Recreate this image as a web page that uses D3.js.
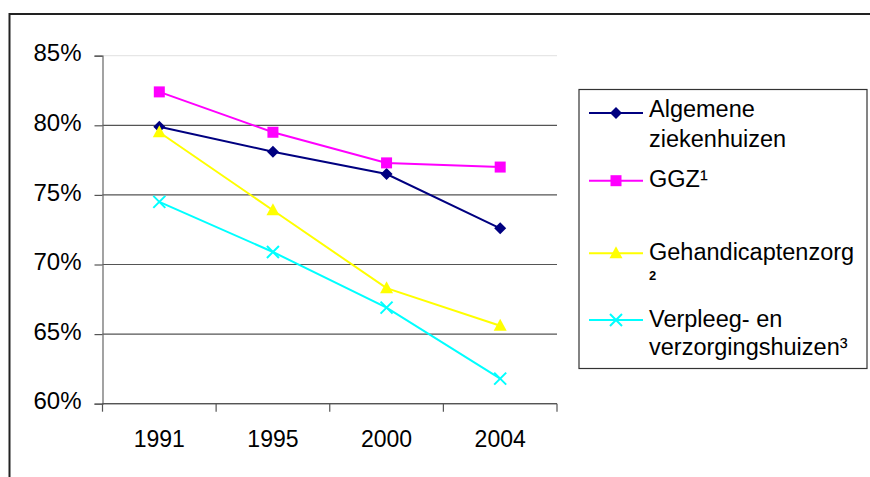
<!DOCTYPE html>
<html>
<head>
<meta charset="utf-8">
<script src="https://cdn.jsdelivr.net/npm/d3@7/dist/d3.min.js"></script>
<style>
  html, body { margin: 0; padding: 0; background: #fff; }
  svg { display: block; font-family: "Liberation Sans", Arial, sans-serif; }
</style>
</head>
<body>
<svg id="chart" width="870" height="477"></svg>
<script>
// Years on the category axis
const years = ["1991", "1995", "2000", "2004"];
// Percentage per sector
const algemeneZiekenhuizen = [79.9, 78.1, 76.5, 72.6];
const ggz = [82.4, 79.5, 77.3, 77.0];
const gehandicaptenzorg = [79.5, 73.9, 68.3, 65.6];
const verpleegVerzorging = [74.5, 70.9, 66.9, 61.8];
// Value axis ticks
const yTicks = [60, 65, 70, 75, 80, 85];

const series = [
  { name: ["Algemene", "ziekenhuizen"], values: algemeneZiekenhuizen, color: "#000080", marker: "diamond" },
  { name: ["GGZ\u00B9"], values: ggz, color: "#FF00FF", marker: "square" },
  { name: ["Gehandicaptenzorg", "\u00B2"], values: gehandicaptenzorg, color: "#FFFF00", marker: "triangle" },
  { name: ["Verpleeg- en", "verzorgingshuizen\u00B3"], values: verpleegVerzorging, color: "#00FFFF", marker: "cross" }
];

const svg = d3.select("#chart");
const FONT_X = 23;
const FONT_Y = 24;
const FONT_LEGEND = 23.5;

// Outer frame
svg.append("rect")
  .attr("x", 9.5).attr("y", 14).attr("width", 880).attr("height", 500)
  .attr("fill", "none").attr("stroke", "#222").attr("stroke-width", 2);

const plot = { left: 102.5, right: 557, top: 55.7, bottom: 403.7 };

const x = d3.scaleBand().domain(years).range([plot.left, plot.right]);
const y = d3.scaleLinear().domain([60, 85]).range([plot.bottom, plot.top]);

// Horizontal gridlines
svg.append("g")
  .selectAll("line")
  .data(yTicks)
  .join("line")
  .attr("x1", plot.left).attr("x2", plot.right)
  .attr("y1", d => y(d)).attr("y2", d => y(d))
  .attr("stroke", d => d === 85 ? "#e6e6e6" : "#555")
  .attr("stroke-width", 1.2);

// Y axis
const yAxis = svg.append("g")
  .attr("transform", `translate(${plot.left},0)`)
  .call(d3.axisLeft(y).tickValues(yTicks).tickFormat(d => d + "%").tickSize(8).tickPadding(13));
yAxis.select(".domain").attr("stroke", "#666").attr("stroke-width", 1.2);
yAxis.selectAll(".tick line").attr("stroke", "#555").attr("stroke-width", 1.2);
yAxis.selectAll(".tick text")
  .attr("font-size", FONT_Y).attr("fill", "#000")
  .attr("font-family", "Liberation Sans, Arial, sans-serif")
  .attr("dy", "0.22em");

// X axis with ticks at category boundaries
const xAxisG = svg.append("g").attr("transform", `translate(0,${plot.bottom})`);
xAxisG.append("line")
  .attr("x1", plot.left).attr("x2", plot.right)
  .attr("stroke", "#555").attr("stroke-width", 1.2);
const boundaries = years.map(d => x(d)).concat([x(years[years.length - 1]) + x.bandwidth()]);
xAxisG.selectAll("line.tick")
  .data(boundaries)
  .join("line")
  .attr("class", "tick")
  .attr("x1", d => d).attr("x2", d => d)
  .attr("y1", 0).attr("y2", 8)
  .attr("stroke", "#555").attr("stroke-width", 1.2);
xAxisG.selectAll("text")
  .data(years)
  .join("text")
  .attr("x", d => x(d) + x.bandwidth() / 2)
  .attr("y", 43.6)
  .attr("text-anchor", "middle")
  .attr("font-size", FONT_X)
  .text(d => d);

// Marker shapes
function drawMarker(g, type, color) {
  if (type === "diamond") {
    g.append("path").attr("d", "M0,-6 L6,0 L0,6 L-6,0 Z").attr("fill", color);
  } else if (type === "square") {
    g.append("rect").attr("x", -5.5).attr("y", -5.5).attr("width", 11).attr("height", 11).attr("fill", color);
  } else if (type === "triangle") {
    g.append("path").attr("d", "M0,-7 L6.5,5 L-6.5,5 Z").attr("fill", color);
  } else if (type === "cross") {
    g.append("path").attr("d", "M-6,-6 L6,6 M6,-6 L-6,6").attr("stroke", color).attr("stroke-width", 2).attr("fill", "none");
  }
}

const cx = d => x(d) + x.bandwidth() / 2;
const line = d3.line().x((v, i) => cx(years[i])).y(v => y(v));

series.forEach(s => {
  svg.append("path")
    .datum(s.values)
    .attr("d", line)
    .attr("fill", "none")
    .attr("stroke", s.color)
    .attr("stroke-width", 2);
  s.values.forEach((v, i) => {
    const g = svg.append("g").attr("transform", `translate(${cx(years[i])},${y(v)})`);
    drawMarker(g, s.marker, s.color);
  });
});

// Legend
const legend = svg.append("g");
legend.append("rect")
  .attr("x", 579).attr("y", 89.5).attr("width", 288).attr("height", 279)
  .attr("fill", "#fff").attr("stroke", "#333").attr("stroke-width", 1.2);

const legendRows = [
  { markerY: 113, lines: [117.3, 146.5] },
  { markerY: 180.7, lines: [186.7] },
  { markerY: 253.3, lines: [260, 279.5] },
  { markerY: 320, lines: [327, 354.5] }
];

series.forEach((s, i) => {
  const row = legendRows[i];
  legend.append("line")
    .attr("x1", 589).attr("x2", 643)
    .attr("y1", row.markerY).attr("y2", row.markerY)
    .attr("stroke", s.color).attr("stroke-width", 2);
  const g = legend.append("g").attr("transform", `translate(616,${row.markerY})`);
  drawMarker(g, s.marker, s.color);
  s.name.forEach((t, j) => {
    const small = t === "\u00B2";
    legend.append("text")
      .attr("x", 649)
      .attr("y", row.lines[j])
      .attr("font-size", small ? 13 : FONT_LEGEND)
      .attr("font-weight", small ? "bold" : "normal")
      .text(small ? "2" : t);
  });
});
</script>
</body>
</html>
